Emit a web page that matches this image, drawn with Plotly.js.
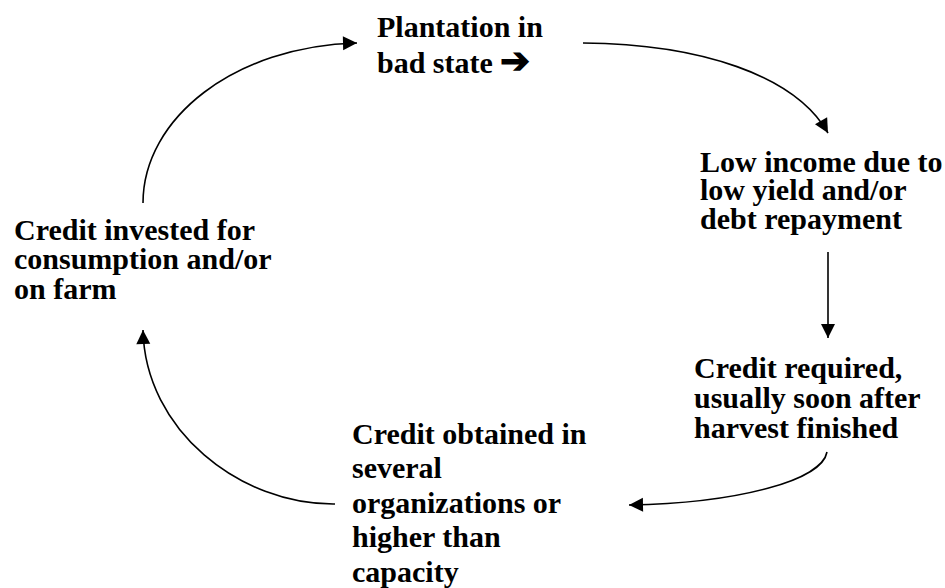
<!DOCTYPE html>
<html>
<head>
<meta charset="utf-8">
<script src="https://cdn.plot.ly/plotly-3.0.1.min.js"></script>
<style>html,body{margin:0;padding:0;background:#fff;}#chart{width:945px;height:588px;}</style>
</head>
<body>
<div id="chart"></div>
<script>
// ---- Diagram content (text of each stage) ----
const plantationLines = ["Plantation in", "bad state <span style='font-size:36px'>\u2794</span>"];
const lowIncomeLines = ["Low income due to", "low yield and/or", "debt repayment"];
const creditRequiredLines = ["Credit required,", "usually soon after", "harvest finished"];
const creditObtainedLines = ["Credit obtained in", "several", "organizations or", "higher than", "capacity"];
const creditInvestedLines = ["Credit invested for", "consumption and/or", "on farm"];

// ---- Layout geometry (pixel-space data coords) ----
const textBoxes = [
  {lines: plantationLines,     x: 375, y0: 26,  dy: 35},
  {lines: lowIncomeLines,      x: 698, y0: 161, dy: 28.5},
  {lines: creditRequiredLines, x: 692, y0: 367, dy: 30},
  {lines: creditObtainedLines, x: 350, y0: 433, dy: 34.5},
  {lines: creditInvestedLines, x: 12,  y0: 229, dy: 29.5}
];
// cubic bezier arrows: [P0, P1, P2, P3]
const arrows = [
  [[143,203],[143,118],[235,46],[357,43]],
  [[583,43],[700,44],[795,75],[828,133]],
  [[828,252],[828,280],[828,310],[828,338]],
  [[827,452],[822,480],[740,503],[629,505]],
  [[335,504],[240,505],[145,430],[143,330]]
];

const FONT = {family: "Liberation Serif", size: 30, color: '#000', weight: 'bold'};
const annotations = [];
textBoxes.forEach(b => {
  b.lines.forEach((t, i) => {
    annotations.push({
      x: b.x, y: b.y0 + i * b.dy, xref: 'x', yref: 'y',
      text: t, showarrow: false,
      xanchor: 'left', yanchor: 'middle', align: 'left', font: Object.assign({}, FONT)
    });
  });
});

const shapes = arrows.map(p => ({
  type: 'path', xref: 'x', yref: 'y',
  path: `M${p[0][0]},${p[0][1]} C${p[1][0]},${p[1][1]} ${p[2][0]},${p[2][1]} ${p[3][0]},${p[3][1]}`,
  line: {color: '#000', width: 1.6}
}));

arrows.forEach(p => {
  const dx = p[3][0] - p[2][0], dy = p[3][1] - p[2][1];
  const L = Math.hypot(dx, dy);
  annotations.push({
    x: p[3][0], y: p[3][1], ax: p[3][0] - 8 * dx / L, ay: p[3][1] - 8 * dy / L,
    xref: 'x', yref: 'y', axref: 'x', ayref: 'y', text: '',
    showarrow: true, arrowhead: 2, arrowsize: 1.75, arrowwidth: 1.6, arrowcolor: '#000', standoff: 0
  });
});

const layout = {
  width: 945, height: 588,
  margin: {l: 0, r: 0, t: 0, b: 0},
  paper_bgcolor: '#fff', plot_bgcolor: '#fff',
  font: {family: "Liberation Serif", color: '#000'},
  xaxis: {range: [0, 945], visible: false, fixedrange: true},
  yaxis: {range: [588, 0], visible: false, fixedrange: true},
  showlegend: false,
  shapes: shapes,
  annotations: annotations
};
Plotly.newPlot('chart', [{x: [], y: [], type: 'scatter', mode: 'lines', hoverinfo: 'skip'}], layout, {displayModeBar: false, staticPlot: true});
</script>
</body>
</html>
